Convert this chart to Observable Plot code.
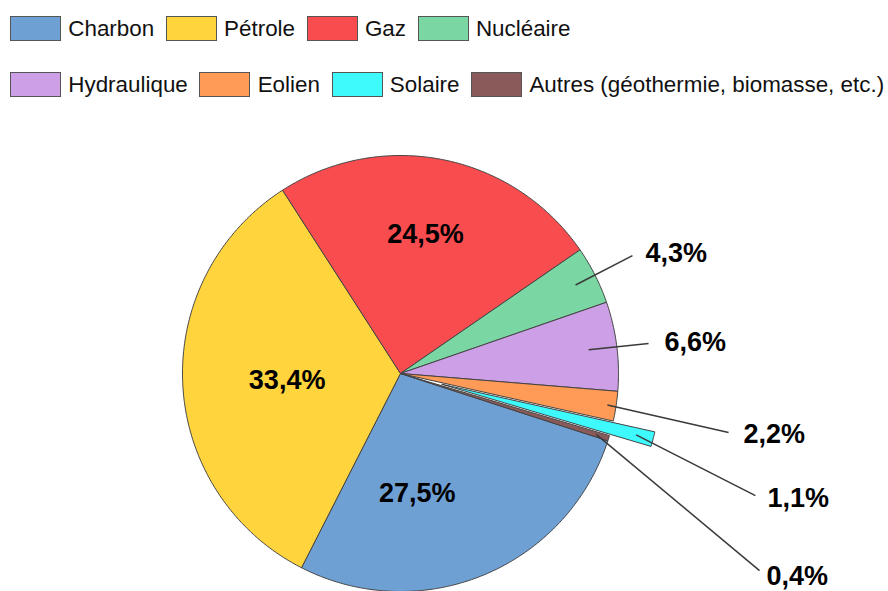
<!DOCTYPE html>
<html>
<head>
<meta charset="utf-8">
<script src="https://cdn.jsdelivr.net/npm/d3@7"></script>
<script src="https://cdn.jsdelivr.net/npm/@observablehq/plot@0.6"></script>
<style>
  html, body { margin: 0; padding: 0; background: #fff; }
  body { width: 888px; height: 591px; overflow: hidden; font-family: Arial, "Liberation Sans", sans-serif; }
  #legend { position: relative; height: 110px; width: 888px; }
  .row { position: absolute; left: 10px; display: flex; align-items: center; white-space: nowrap; }
  .item { display: flex; align-items: center; margin-right: 11.6px; }
  .sw { width: 51px; height: 25px; box-sizing: border-box; border: 1.5px solid #555; }
  .lab { margin-left: 7.3px; font-size: 22.4px; color: #111; line-height: 25px; }
</style>
</head>
<body>
<div id="legend"></div>
<div id="chart"></div>
<script>
// ---- data ----
const names = ["Charbon", "Pétrole", "Gaz", "Nucléaire", "Hydraulique", "Eolien", "Solaire", "Autres (géothermie, biomasse, etc.)"];
const shares = [27.5, 33.4, 24.5, 4.3, 6.6, 2.2, 1.1, 0.4];
const labels = ["27,5%", "33,4%", "24,5%", "4,3%", "6,6%", "2,2%", "1,1%", "0,4%"];
const colors = ["#6FA0D3", "#FFD43C", "#F94C4F", "#7AD6A2", "#CC9FE6", "#FF9B56", "#3EFAFD", "#8A5A5A"];
const legendRows = [[0, 1, 2, 3], [4, 5, 6, 7]];

// ---- layout (unit = pie radius) ----
const startAngleDeg = 108;
const explode = [0, 0, 0, 0, 0, 0, 0.197, 0];
const labelX = [0.077, -0.520, 0.115, 1.124, 1.211, 1.573, 1.683, 1.679];
const labelY = [-0.549, -0.032, 0.638, 0.550, 0.142, -0.280, -0.573, -0.930];
const labelOutside = [false, false, false, true, true, true, true, true];
const leaderStartR = [0, 0, 0, 0.90, 0.87, 0.96, 0.92, 0.94];
const leaderEndX = [0, 0, 0, 1.064, 1.138, 1.505, 1.628, 1.647];
const leaderEndY = [0, 0, 0, 0.541, 0.138, -0.271, -0.560, -0.904];

// ---- legend ----
const legend = document.getElementById("legend");
legendRows.forEach((row, ri) => {
  const div = document.createElement("div");
  div.className = "row";
  div.style.top = (16 + ri * 56) + "px";
  row.forEach(i => {
    const it = document.createElement("div");
    it.className = "item";
    const sw = document.createElement("div");
    sw.className = "sw";
    sw.style.background = colors[i];
    const lb = document.createElement("span");
    lb.className = "lab";
    lb.textContent = names[i];
    it.appendChild(sw); it.appendChild(lb);
    div.appendChild(it);
  });
  legend.appendChild(div);
});

// ---- pie geometry ----
const rad = d => d * Math.PI / 180;
const arcs = d3.pie().sort(null).value(d => d)
  .startAngle(rad(startAngleDeg)).endAngle(rad(startAngleDeg + 360))(shares);

const slicePts = [];
arcs.forEach((a, i) => {
  const mid = (a.startAngle + a.endAngle) / 2;
  const ox = explode[i] * Math.sin(mid), oy = explode[i] * Math.cos(mid);
  slicePts.push({name: names[i], x: ox, y: oy});
  const n = Math.max(2, Math.ceil((a.endAngle - a.startAngle) / rad(0.5)));
  for (let k = 0; k <= n; k++) {
    const t = a.startAngle + (a.endAngle - a.startAngle) * k / n;
    slicePts.push({name: names[i], x: ox + Math.sin(t), y: oy + Math.cos(t)});
  }
  slicePts.push({name: names[i], x: ox, y: oy});
});

const leaders = [];
arcs.forEach((a, i) => {
  if (!labelOutside[i]) return;
  const mid = (a.startAngle + a.endAngle) / 2;
  const ox = explode[i] * Math.sin(mid), oy = explode[i] * Math.cos(mid);
  leaders.push({
    x1: ox + leaderStartR[i] * Math.sin(mid), y1: oy + leaderStartR[i] * Math.cos(mid),
    x2: leaderEndX[i], y2: leaderEndY[i]
  });
});

const textRows = labels.map((t, i) => ({t, x: labelX[i], y: labelY[i], o: labelOutside[i]}));

const W = 888, H = 481, R = 218, cx = 400, cy = 263;
const chart = Plot.plot({
  width: W, height: H, margin: 0,
  x: {domain: [-cx / R, (W - cx) / R], axis: null},
  y: {domain: [-(H - cy) / R, cy / R], axis: null},
  color: {domain: names, range: colors},
  style: {fontFamily: "Arial, 'Liberation Sans', sans-serif", background: "white"},
  marks: [
    Plot.line(slicePts, {x: "x", y: "y", z: "name", fill: "name", stroke: "#444", strokeWidth: 1, strokeLinejoin: "round", curve: "linear"}),
    Plot.link(leaders, {x1: "x1", y1: "y1", x2: "x2", y2: "y2", stroke: "#3a3a3a", strokeWidth: 1.5}),
    Plot.text(textRows.filter(d => !d.o), {x: "x", y: "y", text: "t", fontSize: 27, fontWeight: "bold", fill: "#000", textAnchor: "middle"}),
    Plot.text(textRows.filter(d => d.o), {x: "x", y: "y", text: "t", fontSize: 27, fontWeight: "bold", fill: "#000", textAnchor: "start"})
  ]
});
document.getElementById("chart").appendChild(chart);
</script>
</body>
</html>
